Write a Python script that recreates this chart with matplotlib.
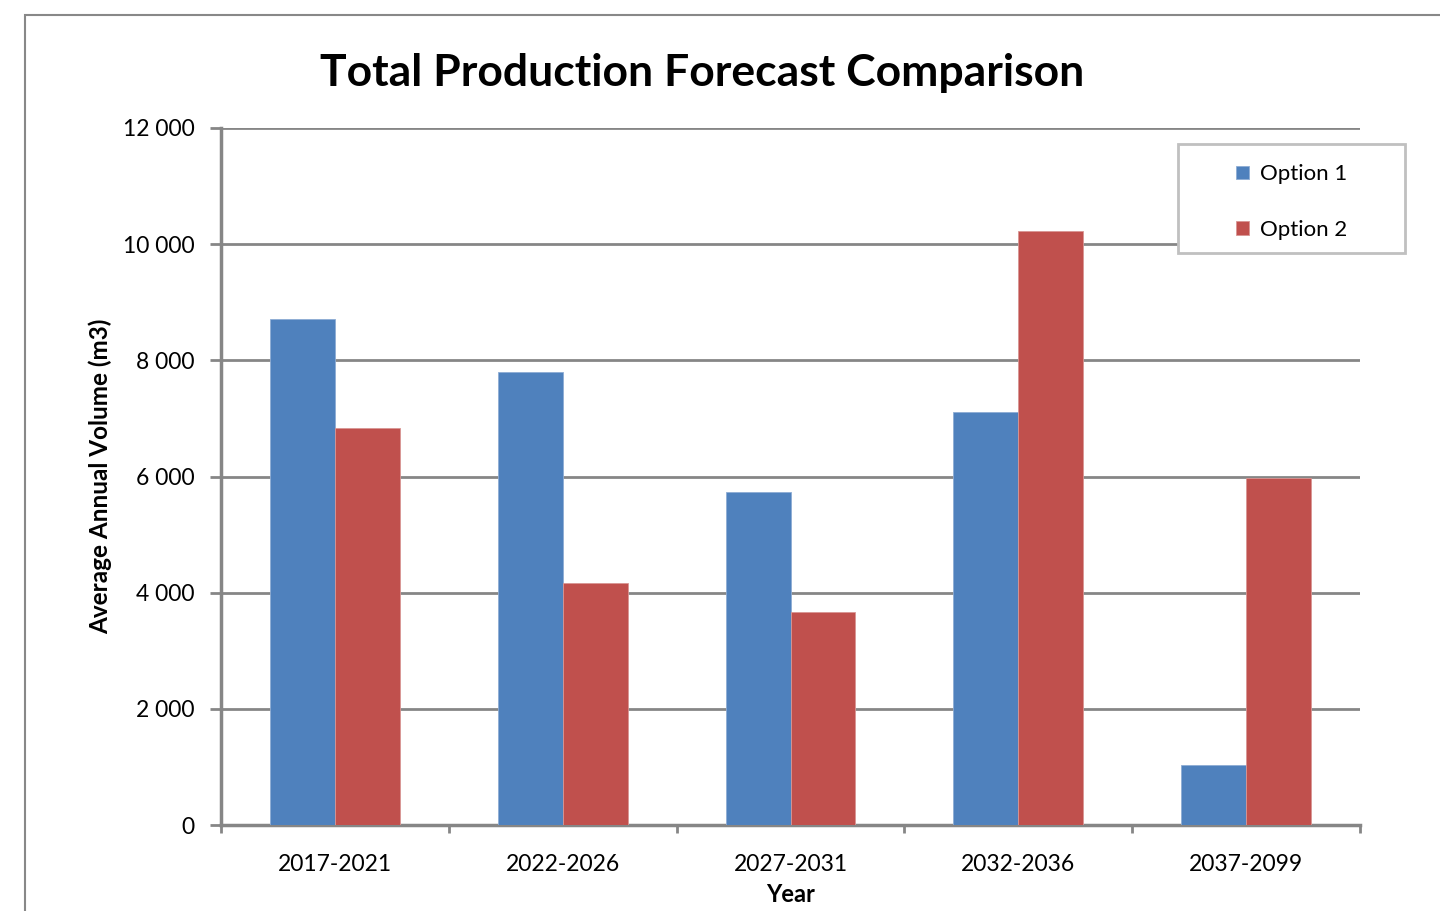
import matplotlib
matplotlib.use("Agg")
import matplotlib.pyplot as plt
from matplotlib.patches import Rectangle
import numpy as np

plt.rcParams['font.family'] = ['Lato', 'DejaVu Sans']

periods = ["2017-2021", "2022-2026", "2027-2031", "2032-2036", "2037-2099"]
option1 = [8720, 7800, 5730, 7110, 1030]
option2 = [6840, 4160, 3660, 10230, 5980]
y_ticks = [0, 2000, 4000, 6000, 8000, 10000, 12000]
y_tick_labels = ["0", "2 000", "4 000", "6 000", "8 000", "10 000", "12 000"]

blue = "#4F81BD"
red = "#C0504D"
grid_grey = "#868686"

W, H = 1440, 911
fig = plt.figure(figsize=(W / 100, H / 100), dpi=100)
ax = fig.add_axes([221 / W, 1 - 825 / H, (1360 - 221) / W, (825 - 128) / H])

# chart-area frame
fig.patches.append(Rectangle((25 / W, -0.01), 1.0, 1 - 15 / H + 0.01,
                             transform=fig.transFigure, fill=False,
                             edgecolor="#888888", linewidth=1.5))

x = np.arange(len(periods))
w = 0.285
ax.bar(x - w / 2, option1, width=w, color=blue, edgecolor="#8EACD4",
       linewidth=0.6, label="Option 1", zorder=3)
ax.bar(x + w / 2, option2, width=w, color=red, edgecolor="#D99694",
       linewidth=0.6, label="Option 2", zorder=3)

ax.set_xlim(-0.5, len(periods) - 0.5)
ax.set_ylim(0, 12000)
ax.set_yticks(y_ticks)
ax.set_yticklabels(y_tick_labels, fontsize=16.5)
ax.set_xticks(x)
ax.set_xticklabels(periods, fontsize=16.5)
ax.tick_params(axis='x', length=0, pad=21)
ax.set_xticks(np.arange(-0.5, len(periods)), minor=True)
ax.tick_params(axis='x', which='minor', length=6, width=2, color=grid_grey, direction='out')
ax.tick_params(axis='y', length=8, width=2, color=grid_grey, pad=11)

ax.grid(axis='y', color=grid_grey, linewidth=2, zorder=0)
ax.set_axisbelow(True)
for s in ['top', 'right']:
    ax.spines[s].set_visible(False)
for s in ['left', 'bottom']:
    ax.spines[s].set_color(grid_grey)
    ax.spines[s].set_linewidth(2.5)

ax.set_ylabel("Average Annual Volume (m3)", fontsize=17.5, fontweight='bold', labelpad=8)
ax.set_xlabel("Year", fontsize=17, fontweight='bold', labelpad=6)

fig.text(702 / W, 1 - 73 / H, "Total Production Forecast Comparison",
         ha='center', va='center', fontsize=32, fontweight='bold')

# legend box, drawn over the gridlines
ax.add_patch(Rectangle((1178 / W, 1 - 253 / H), (1405 - 1178) / W, (253 - 144) / H,
                       transform=fig.transFigure, facecolor="white", clip_on=False,
                       edgecolor="#C0C0C0", linewidth=2, zorder=5))
leg = ax.legend(loc='upper left', bbox_to_anchor=(1232 / W, 1 - 160 / H),
                bbox_transform=fig.transFigure, fontsize=16, frameon=False,
                handlelength=0.55, handleheight=0.55, labelspacing=1.6,
                borderpad=0.2, handletextpad=0.5, borderaxespad=0)
leg.set_zorder(6)

fig.savefig("out.png", dpi=100)
